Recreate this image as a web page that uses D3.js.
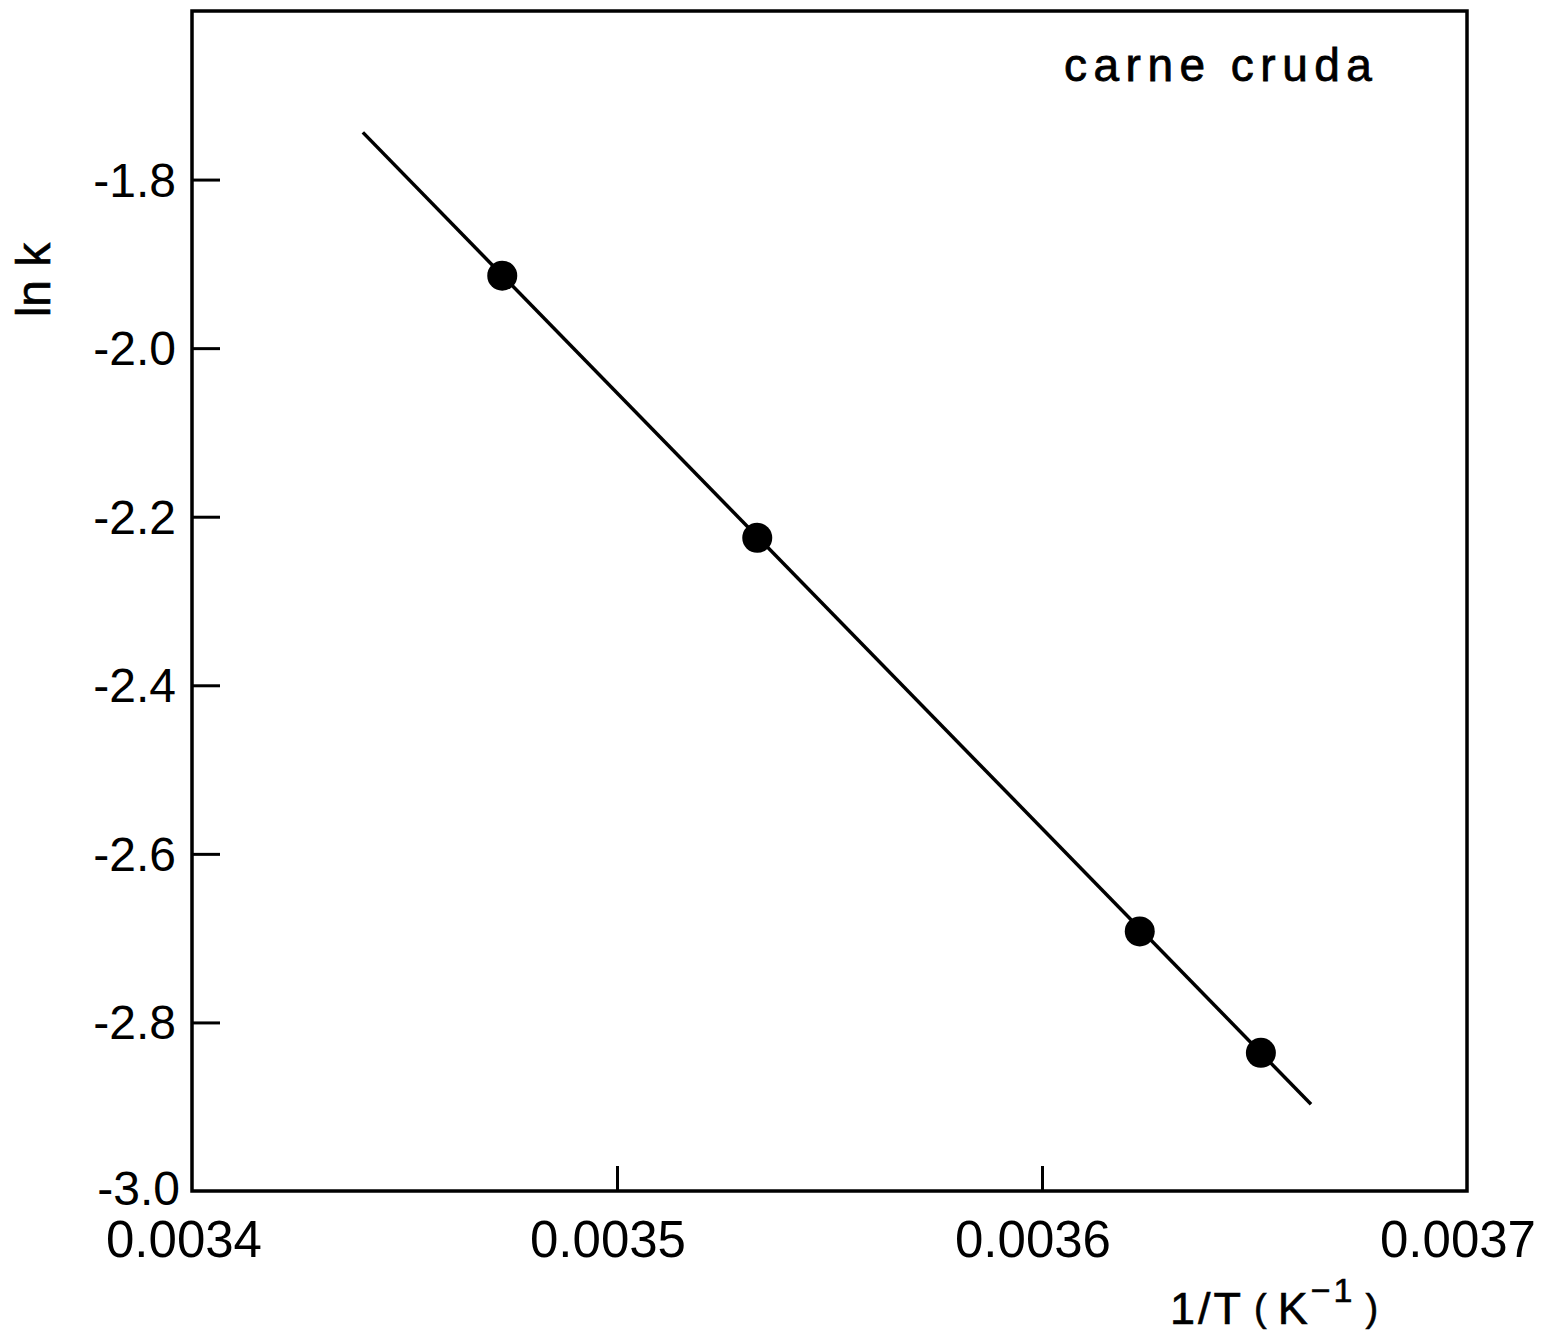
<!DOCTYPE html>
<html>
<head>
<meta charset="utf-8">
<script src="https://cdn.jsdelivr.net/npm/d3@7"></script>
<style>
  html, body { margin: 0; padding: 0; background: #fff; }
  text { font-family: "Liberation Sans", "DejaVu Sans", sans-serif; fill: #000; }
</style>
</head>
<body>
<svg id="chart" width="1548" height="1337"></svg>
<script>
// Arrhenius plot: ln k versus 1/T for raw meat
const invT = [0.003473, 0.003533, 0.003623, 0.0036515];
const lnK = [-1.914, -2.225, -2.692, -2.836];
// fitted straight line, drawn between its two end points
const fitX = [0.0034402, 0.0036633];
const fitY = [-1.744, -2.897];
const xTicks = [0.0034, 0.0035, 0.0036, 0.0037];
const xTickLabels = ["0.0034", "0.0035", "0.0036", "0.0037"];
const yTicks = [-3.0, -2.8, -2.6, -2.4, -2.2, -2.0, -1.8];
const yTickLabels = ["-3.0", "-2.8", "-2.6", "-2.4", "-2.2", "-2.0", "-1.8"];

const svg = d3.select("#chart");
const plotLeft = 192, plotRight = 1467, plotTop = 11, plotBottom = 1191;

const x = d3.scaleLinear().domain([0.0034, 0.0037]).range([plotLeft, plotRight]);
const y = d3.scaleLinear().domain([-3.0, -1.6]).range([plotBottom, plotTop]);

// frame
svg.append("rect")
  .attr("x", plotLeft).attr("y", plotTop)
  .attr("width", plotRight - plotLeft).attr("height", plotBottom - plotTop)
  .attr("fill", "none").attr("stroke", "#000").attr("stroke-width", 3.5);

// inward ticks on bottom and left
const xAxis = d3.axisBottom(x).tickValues(xTicks.slice(1, -1)).tickSize(-25).tickFormat("");
svg.append("g").attr("transform", `translate(0,${plotBottom})`).call(xAxis)
  .call(g => g.select(".domain").remove())
  .selectAll("line").attr("stroke", "#000").attr("stroke-width", 3);

const yAxis = d3.axisLeft(y).tickValues(yTicks.slice(1)).tickSize(-28).tickFormat("");
svg.append("g").attr("transform", `translate(${plotLeft},0)`).call(yAxis)
  .call(g => g.select(".domain").remove())
  .selectAll("line").attr("stroke", "#000").attr("stroke-width", 3);

// x tick labels
svg.append("g").selectAll("text").data(xTicks).join("text")
  .attr("x", (d, i) => x(d) - (i === 0 ? 8 : 9))
  .attr("y", 1257)
  .attr("text-anchor", "middle")
  .attr("font-size", 51)
  .text((d, i) => xTickLabels[i]);

// y tick labels
svg.append("g").selectAll("text").data(yTicks).join("text")
  .attr("x", d => d === -3.0 ? 180 : 176)
  .attr("y", d => y(d) + (d === -3.0 ? 14 : 17))
  .attr("text-anchor", "end")
  .attr("font-size", 48)
  .text((d, i) => yTickLabels[i]);

// axis titles
const xt = svg.append("text")
  .attr("x", 1170).attr("y", 1324)
  .attr("font-size", 45)
  .attr("letter-spacing", 3)
  .attr("stroke", "#000").attr("stroke-width", 0.6);
xt.append("tspan").text("1/T");
xt.append("tspan").attr("dx", 10).attr("font-size", 38).attr("dy", -3).text("(");
xt.append("tspan").attr("dx", 8).attr("dy", 3).text("K");
xt.append("tspan").attr("dy", -22).attr("font-size", 34).text("\u22121");
xt.append("tspan").attr("dx", 10).attr("dy", 19).attr("font-size", 38).text(")");

svg.append("text")
  .attr("transform", "translate(50,280) rotate(-90)")
  .attr("text-anchor", "middle")
  .attr("font-size", 48)
  .attr("stroke", "#000").attr("stroke-width", 0.6)
  .text("ln k");

// annotation
svg.append("text")
  .attr("x", 1064).attr("y", 81)
  .attr("font-size", 46)
  .attr("letter-spacing", 6.5)
  .attr("stroke", "#000").attr("stroke-width", 0.8)
  .text("carne cruda");

// regression line
svg.append("line")
  .attr("x1", x(fitX[0])).attr("y1", y(fitY[0]))
  .attr("x2", x(fitX[1])).attr("y2", y(fitY[1]))
  .attr("stroke", "#000").attr("stroke-width", 3.5);

// data points
svg.append("g").selectAll("circle").data(invT).join("circle")
  .attr("cx", d => x(d))
  .attr("cy", (d, i) => y(lnK[i]))
  .attr("r", 15)
  .attr("fill", "#000");
</script>
</body>
</html>
